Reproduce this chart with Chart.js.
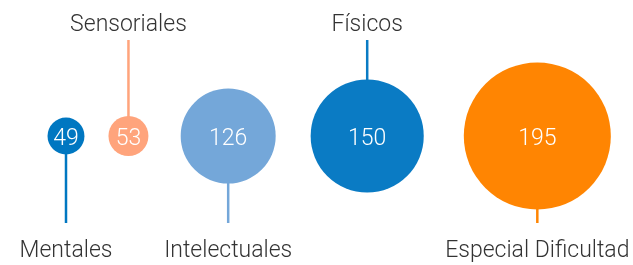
<!DOCTYPE html>
<html>
<head>
<meta charset="utf-8">
<script src="https://cdn.jsdelivr.net/npm/chart.js@4/dist/chart.umd.min.js"></script>
<style>
    body { margin: 0; background: #fff; }
    #wrap { width: 633px; height: 265px; }
</style>
</head>
<body>
<div id="wrap"><canvas id="bubbleChart" width="633" height="265"></canvas></div>
<script>
// ============== DATA ==============
const categories = ['Mentales', 'Sensoriales', 'Intelectuales', 'Físicos', 'Especial Dificultad'];
const values = [49, 53, 126, 150, 195];
const colors = ['#0077c1', '#ffa47c', '#74a7d9', '#0a7bc4', '#ff8502'];

const FONT = '300 23px Roboto, "Liberation Sans", sans-serif';
const RADIUS_PER_UNIT = 0.377;

// radius grows linearly with the value
const radii = values.map(v => v * RADIUS_PER_UNIT);

// pack the bubbles left to right, the gap widening a bit with the next bubble
function layoutX() {
    const xs = [];
    let x = 66;
    radii.forEach((r, i) => {
        if (i > 0) x += radii[i - 1] + 18 + r * 0.3 + r;
        xs.push(x);
    });
    return xs;
}
const xs = layoutX();

// stems and category names, alternating below / above
const stemPlugin = {
    id: 'stems',
    beforeDatasetsDraw(chart) {
        const ctx = chart.ctx;
        const meta = chart.getDatasetMeta(0);
        ctx.save();
        meta.data.forEach((el, i) => {
            const down = i % 2 === 0;
            ctx.strokeStyle = colors[i];
            ctx.lineWidth = 2.5;
            ctx.beginPath();
            ctx.moveTo(el.x, el.y);
            ctx.lineTo(el.x, down ? 223 : 40);
            ctx.stroke();
        });
        ctx.restore();
    },
    afterDatasetsDraw(chart) {
        const ctx = chart.ctx;
        const meta = chart.getDatasetMeta(0);
        ctx.save();
        ctx.font = FONT;
        ctx.textAlign = 'center';
        ctx.textBaseline = 'alphabetic';
        meta.data.forEach((el, i) => {
            const down = i % 2 === 0;
            // category name
            ctx.fillStyle = '#333';
            ctx.fillText(categories[i], el.x, down ? 256.5 : 30.5);
            // value inside the bubble
            ctx.fillStyle = '#fff';
            ctx.fillText(String(values[i]), el.x, el.y + 9);
        });
        ctx.restore();
    }
};

const ctx = document.getElementById('bubbleChart').getContext('2d');
new Chart(ctx, {
    type: 'bubble',
    data: {
        labels: categories,
        datasets: [{
            data: values.map((v, i) => ({ x: xs[i], y: 0, r: radii[i] })),
            backgroundColor: colors,
            borderWidth: 0,
            hoverRadius: 0,
            clip: false
        }]
    },
    options: {
        responsive: false,
        animation: false,
        layout: { autoPadding: false, padding: { top: 7, bottom: 0, left: 0, right: 0 } },
        plugins: {
            legend: { display: false },
            tooltip: { enabled: false }
        },
        scales: {
            x: { type: 'linear', min: 0, max: 633, display: false },
            y: { type: 'linear', min: -1, max: 1, display: false }
        }
    },
    plugins: [stemPlugin]
});
</script>
</body>
</html>
